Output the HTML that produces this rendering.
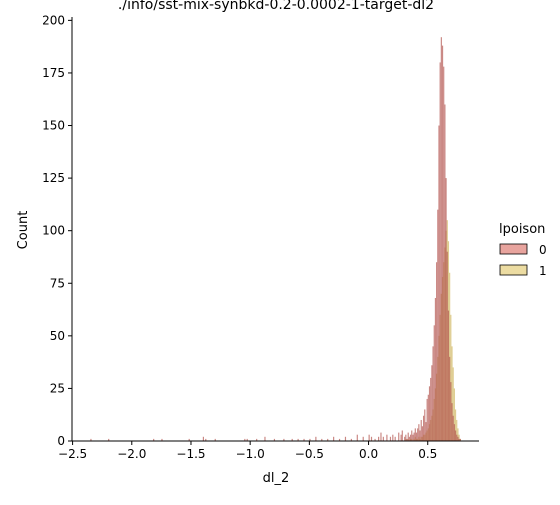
<!DOCTYPE html>
<html><head><meta charset="utf-8"><style>
body{margin:0;background:#fff;font-family:"Liberation Sans","DejaVu Sans",sans-serif}
svg text{font-family:"DejaVu Sans","Liberation Sans",sans-serif;fill:#000}
</style></head><body>
<svg id="c" width="560" height="500"></svg>
<script>
const binStart = 0.30;
const binWidth = 0.01;
const counts0 = [2,3,1,4,2,3,5,3,4,6, 4,6,8,5,10,7,12,15,9,20, 22,26,30,36,45,55,68,85,110,150, 180,192,188,178,160,125,90,62,40,28, 18,12,8,5,3,2,1,1,0];
const counts1 = [0,1,0,1,0,1,1,0,1,2, 1,1,2,1,2,2,3,3,4,5, 6,8,10,12,15,20,25,32,40,50, 60,70,78,85,92,100,105,95,80,60, 45,35,25,15,10,6,3,1,0];
const tailX = [-2.35,-2.2,-1.82,-1.75,-1.52,-1.4,-1.38,-1.3,-1.05,-1.03,-0.95,-0.88,-0.8,-0.72,-0.65,-0.6,-0.55,-0.5,-0.45,-0.4,-0.35,-0.3,-0.25,-0.2,-0.15,-0.1,-0.05,0.0,0.02,0.05,0.08,0.1,0.12,0.15,0.18,0.2,0.22,0.25,0.27,0.28];
const tailC = [1,1,1,1,1,2,1,1,1,1,1,2,1,1,1,1,1,1,2,1,1,2,1,2,1,3,2,3,2,1,2,4,2,3,2,3,2,4,3,5];
const xTicks = [-2.5,-2.0,-1.5,-1.0,-0.5,0.0,0.5];
const yTicks = [0,25,50,75,100,125,150,175,200];

const svg=document.getElementById('c');const NS='http://www.w3.org/2000/svg';
const X0=72,X1=479,Y0=441,Y1=17;
const xmin=-2.505,xmax=0.933,ymax=201.6;
const sx=v=>X0+(v-xmin)/(xmax-xmin)*(X1-X0);
const sy=v=>Y0-v/ymax*(Y0-Y1);
function mk(t,a,p){const e=document.createElementNS(NS,t);for(const k in a)e.setAttribute(k,a[k]);(p||svg).appendChild(e);return e;}
const c0='rgba(180,85,80,0.7)',c1='rgba(200,170,70,0.6)';
const g=mk('g',{});
function bar(x,c,col){const r=mk('rect',{x:sx(x),y:sy(c),width:sx(x+binWidth)-sx(x),height:sy(0)-sy(c),fill:col},g);
}
tailX.forEach((x,i)=>bar(x,tailC[i],c0));
counts1.forEach((c,i)=>{if(c>0)bar(binStart+i*binWidth,c,c1);});
counts0.forEach((c,i)=>{if(c>0)bar(binStart+i*binWidth,c,c0);});
mk('line',{x1:X0,y1:Y1,x2:X0,y2:Y0,stroke:'#000','stroke-width':1});
mk('line',{x1:X0,y1:Y0,x2:X1,y2:Y0,stroke:'#000','stroke-width':1});
xTicks.forEach(v=>{const x=sx(v);mk('line',{x1:x,y1:Y0,x2:x,y2:Y0+4,stroke:'#000'});
const t=mk('text',{x:x,y:Y0+17,'font-size':12,'text-anchor':'middle'});t.textContent=(v<0?'\u2212':'')+Math.abs(v).toFixed(1);
});
yTicks.forEach(v=>{const y=sy(v);mk('line',{x1:X0-4,y1:y,x2:X0,y2:y,stroke:'#000'});
const t=mk('text',{x:X0-7,y:y+4,'font-size':12,'text-anchor':'end'});t.textContent=v;
});
</script>
<svg width="560" height="500" style="position:absolute;left:0;top:0">
<text x="276" y="9" font-size="14" text-anchor="middle">./info/sst-mix-synbkd-0.2-0.0002-1-target-dl2</text>
<text x="276" y="482" font-size="13" text-anchor="middle">dl_2</text>
<text x="27" y="230" font-size="13" text-anchor="middle" transform="rotate(-90 27 230)">Count</text>
<g>
<text x="499" y="233" font-size="13">lpoison</text>
<rect x="500" y="244" width="27" height="10" fill="#e8a49e" stroke="#000" stroke-width="0.8"/>
<text x="539" y="254" font-size="12">0</text>
<rect x="500" y="265" width="27" height="10" fill="#ecdca2" stroke="#000" stroke-width="0.8"/>
<text x="539" y="275" font-size="12">1</text>
</g>
</svg>
</body></html>
